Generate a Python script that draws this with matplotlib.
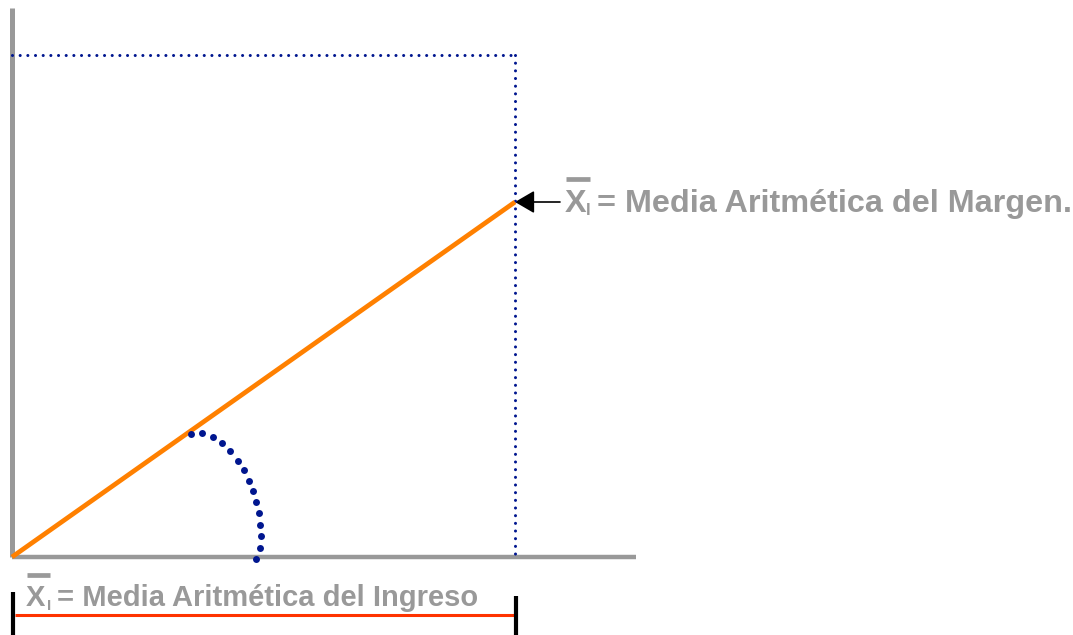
import numpy as np
import matplotlib.pyplot as plt
from matplotlib.patches import FancyArrowPatch

# coordinates are in picture units, origin at the corner of the two axes
x_media = 503          # media aritmética del ingreso
y_media = 355          # media aritmética del margen
y_top = 502            # upper dotted guide
x_axis_end = 624
y_axis_end = 549

# dots of the angle arc
arc_x = [179, 190, 201, 210, 218, 226, 232, 237, 241, 244, 247, 248, 249, 248, 244]
arc_y = [123, 124, 120, 114, 106, 96, 87, 76, 66, 55, 44, 32, 21, 9, -2]

label_margen = '= Media Aritmética del Margen.'
label_ingreso = '= Media Aritmética del Ingreso'

GRAY = '#999999'
NAVY = '#00168f'
ORANGE = '#ff8000'
RED = '#ff3300'
FONT = 'Liberation Sans'


def main():
    fig = plt.figure(figsize=(10.73, 6.35), dpi=100)
    ax = fig.add_axes([0, 0, 1, 1])
    ax.set_xlim(-12, 1061)
    ax.set_ylim(-78, 557)
    ax.axis('off')

    # axes
    ax.plot([0, 0], [0, y_axis_end], color=GRAY, lw=3.6, solid_capstyle='butt')
    ax.plot([0, x_axis_end], [0, 0], color=GRAY, lw=3.2, solid_capstyle='butt')

    # dotted guides
    dots = dict(color=NAVY, lw=2.2, linestyle=(0, (0.01, 2.5)), dash_capstyle='round')
    ax.plot([0, x_media], [y_top, y_top], **dots)
    ax.plot([x_media, x_media], [y_top, 0], **dots)

    # main line
    ax.plot([0, x_media], [0, y_media], color=ORANGE, lw=3.4, solid_capstyle='butt')

    # angle arc
    ax.plot(arc_x, arc_y, 'o', color=NAVY, ms=5, mec='none')

    # arrow to the point
    arr = FancyArrowPatch((x_media + 45, y_media), (x_media, y_media),
                          arrowstyle='-|>,head_length=12,head_width=7',
                          mutation_scale=1, color='black', lw=1.2,
                          shrinkA=0, shrinkB=0)
    ax.add_patch(arr)

    txt = dict(color=GRAY, fontweight='bold', family=FONT, va='baseline', ha='left')

    # top label
    ax.text(553, 345, 'X', fontsize=23.3, **txt)
    ax.text(574, 342, 'I', fontsize=12, **txt)
    ax.text(585, 345, label_margen, fontsize=23.3, **txt)
    ax.plot([554, 578], [378, 378], color=GRAY, lw=3.4, solid_capstyle='butt')

    # bottom label
    ax.text(14, -49, 'X', fontsize=21, **txt)
    ax.text(35, -53, 'I', fontsize=11, **txt)
    ax.text(45, -49, label_ingreso, fontsize=21, **txt)
    ax.plot([15, 38], [-18, -18], color=GRAY, lw=3.4, solid_capstyle='butt')

    # bracket under the axis
    ax.plot([3, 504], [-58, -58], color=RED, lw=2.2, solid_capstyle='butt')
    ax.plot([1, 1], [-35, -78], color='black', lw=3, solid_capstyle='butt')
    ax.plot([504, 504], [-39, -78], color='black', lw=3, solid_capstyle='butt')

    plt.savefig('out.png', dpi=100)


if __name__ == '__main__':
    main()
